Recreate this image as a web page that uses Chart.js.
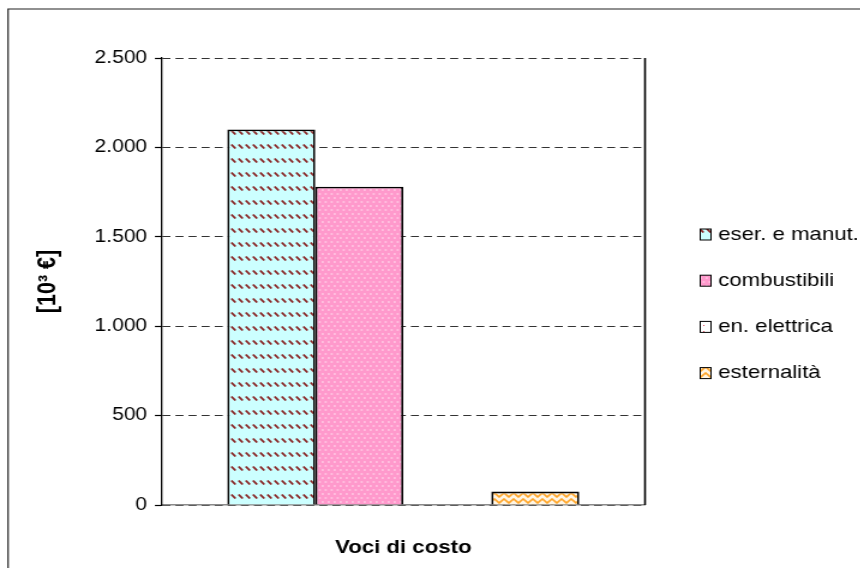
<!DOCTYPE html>
<html>
<head>
<meta charset="utf-8">
<script src="https://cdn.jsdelivr.net/npm/chart.js@4.4.0/dist/chart.umd.min.js"></script>
<style>
  html, body { margin: 0; padding: 0; background: #fff; overflow: hidden; }
  /* the chart is laid out narrow and stretched sideways, like the exported sheet */
  #wrap { width: 717px; height: 568px; transform: scaleX(1.2); transform-origin: 0 0; }
</style>
</head>
<body>
<div id="wrap"><canvas id="costi"></canvas></div>
<script>
const categories = [''];
const seriesNames = ['eser. e manut.', 'combustibili', 'en. elettrica', 'esternalità'];
const eserManut = [2100];
const combustibili = [1780];
const enElettrica = [0];
const esternalita = [75];
const yTicks = [0, 500, 1000, 1500, 2000, 2500];
const yTickLabels = ['0', '500', '1.000', '1.500', '2.000', '2.500'];

const FONT = "'Liberation Sans', Arial, sans-serif";
const canvas = document.getElementById('costi');
const ctx = canvas.getContext('2d');

// small repeating tiles for the Excel-style fills
function tile(w, h, draw) {
  const c = document.createElement('canvas');
  c.width = w;
  c.height = h;
  draw(c.getContext('2d'), w, h);
  return ctx.createPattern(c, 'repeat');
}

const hatchCyan = tile(6, 14, (g, w, h) => {
  g.fillStyle = '#ccffff';
  g.fillRect(0, 0, w, h);
  g.strokeStyle = '#8a2626';
  g.lineWidth = 1.9;
  g.beginPath();
  g.moveTo(0.8, 4.5);
  g.lineTo(4.2, 8.5);
  g.stroke();
});

const dotsPink = tile(10, 8, (g, w, h) => {
  g.fillStyle = '#ff99cc';
  g.fillRect(0, 0, w, h);
  g.fillStyle = '#ffe6f2';
  [[0.5, 1.5], [5.5, 1.5], [3, 5.5], [8, 5.5]].forEach(([x, y]) => g.fillRect(x, y, 1.8, 1));
});

const specksWhite = tile(6, 6, (g, w, h) => {
  g.fillStyle = '#ffffff';
  g.fillRect(0, 0, w, h);
  g.fillStyle = '#e0405a';
  g.fillRect(4, 1, 1, 1);
});

const zigOrange = tile(8, 6, (g, w, h) => {
  g.fillStyle = '#fff6e6';
  g.fillRect(0, 0, w, h);
  g.strokeStyle = '#ffa528';
  g.lineWidth = 1.6;
  g.beginPath();
  g.moveTo(-1, 6);
  g.lineTo(4, 1);
  g.lineTo(9, 6);
  g.stroke();
});

const fills = [hatchCyan, dotsPink, specksWhite, zigOrange];
const values = [eserManut, combustibili, enElettrica, esternalita];

const datasets = seriesNames.map((name, i) => ({
  label: name,
  data: values[i],
  backgroundColor: fills[i],
  borderColor: '#000',
  borderWidth: 1.8,
  categoryPercentage: 0.728,
  barPercentage: 1
}));

// outer frame, right edge of the plot and the legend on the right
const sheet = {
  id: 'sheet',
  beforeDraw(chart) {
    const c = chart.ctx;
    c.save();
    c.fillStyle = '#fff';
    c.fillRect(0, 0, chart.width, chart.height);
    c.strokeStyle = '#222';
    c.lineWidth = 1.2;
    c.beginPath();
    c.moveTo(6.7, chart.height + 2);
    c.lineTo(6.7, 9);
    c.lineTo(chart.width + 2, 9);
    c.stroke();
    c.restore();
  },
  afterDraw(chart) {
    const c = chart.ctx;
    const a = chart.chartArea;
    c.save();
    c.strokeStyle = '#000';
    c.lineWidth = 1.6;
    c.beginPath();
    c.moveTo(a.right, a.top);
    c.lineTo(a.right, a.bottom);
    c.stroke();

    c.font = '18.5px ' + FONT;
    c.textBaseline = 'middle';
    c.textAlign = 'left';
    chart.data.datasets.forEach((ds, i) => {
      const y = 234.5 + i * 46.2;
      c.fillStyle = ds.backgroundColor;
      c.fillRect(583.5, y - 5.5, 9, 11);
      c.strokeStyle = '#000';
      c.lineWidth = 1;
      c.strokeRect(583.5, y - 5.5, 9, 11);
      c.fillStyle = '#000';
      c.fillText(ds.label, 598.5, y);
    });
    c.restore();
  }
};

new Chart(ctx, {
  type: 'bar',
  data: { labels: categories, datasets },
  plugins: [sheet],
  options: {
    responsive: true,
    maintainAspectRatio: false,
    animation: false,
    layout: { padding: { left: 0, top: 58, right: 179.5, bottom: 0 } },
    plugins: {
      legend: { display: false },
      tooltip: { enabled: false }
    },
    scales: {
      x: {
        grid: { display: false },
        border: { display: true, color: '#8a8a8a', width: 1.5 },
        ticks: { display: false },
        title: {
          display: true,
          text: 'Voci di costo',
          color: '#000',
          font: { family: FONT, size: 18.5, weight: 'bold' },
          padding: { top: 0, bottom: 9 }
        },
        afterFit: s => { s.height = 63; }
      },
      y: {
        min: 0,
        max: 2500,
        afterBuildTicks: s => { s.ticks = yTicks.map(v => ({ value: v })); },
        grid: {
          color: '#333',
          lineWidth: 1,
          tickColor: '#000',
          tickWidth: 1.2,
          tickLength: 5.5,
          tickBorderDash: []
        },
        border: { display: true, color: '#000', width: 1.3, dash: [6.7, 4.2] },
        ticks: {
          padding: 6.5,
          color: '#000',
          font: { family: FONT, size: 17.5 },
          callback: (v, i) => yTickLabels[i]
        },
        title: {
          display: true,
          text: '[10³ €]',
          color: '#000',
          font: { family: FONT, size: 21.5, weight: 'bold' },
          padding: { top: 27.4, bottom: 0 }
        },
        afterFit: s => { s.width = 134.6; }
      }
    }
  }
});
</script>
</body>
</html>
